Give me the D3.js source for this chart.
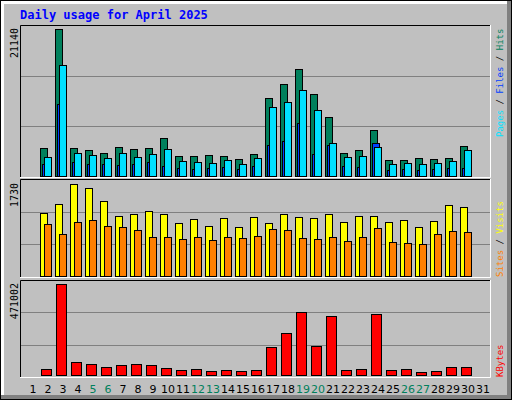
<!DOCTYPE html>
<html>
<head>
<meta charset="utf-8">
<script src="https://cdn.jsdelivr.net/npm/d3@7"></script>
<style>
  body { margin: 0; background: #fff; }
  svg text { font-family: "DejaVu Sans Mono", monospace; }
</style>
</head>
<body>
<div id="chart"></div>
<script>
// day numbers shown on the axis, and data for the 30 days of April
const days = d3.range(1, 32);
const weekends = [5, 6, 12, 13, 19, 20, 26, 27];
const hits = [4000, 21140, 4030, 3750, 3310, 4170, 3880, 4030, 5440, 2880, 2880, 3020, 2880, 2450, 3170,
  11220, 13230, 15390, 11800, 8500, 3310, 3740, 6620, 2300, 2300, 2590, 2450, 2590, 4310];
const files = [1720, 10350, 2010, 1720, 1720, 1580, 1720, 2010, 1440, 1150, 1010, 1150, 1300, 1010, 1440,
  4460, 5030, 7620, 3160, 4460, 1440, 1300, 4740, 860, 1010, 860, 1010, 1150, 1150];
const pages = [2730, 15960, 3310, 3020, 2590, 3310, 2730, 3170, 3880, 2150, 2010, 1870, 2300, 1720, 2590,
  9920, 10640, 12370, 9490, 4750, 2730, 2880, 4170, 1720, 1870, 1720, 1870, 2150, 3740];
const visits = [1183, 1353, 1730, 1655, 1409, 1126, 1164, 1220, 1164, 994, 1069, 937, 1088, 918, 1107,
  994, 1164, 1107, 1088, 1164, 1013, 1126, 1126, 1013, 1051, 918, 1032, 1334, 1296];
const sites = [975, 786, 1013, 1051, 937, 918, 862, 730, 730, 692, 730, 673, 730, 711, 749,
  881, 862, 711, 692, 730, 654, 730, 900, 635, 617, 598, 786, 843, 824];
const kbytes = [31055, 471002, 67287, 56935, 41407, 51759, 56935, 51759, 36231, 25879, 31055, 20703, 25879, 20703, 25879,
  144922, 217383, 326060, 150098, 305357, 25879, 31055, 315709, 25879, 31055, 15527, 20703, 41407, 41407];
// the first day has no data in the picture; data starts on day 2
const dataDays = d3.range(2, 31);

const W = 512, H = 400;
const svg = d3.select("#chart").append("svg").attr("width", W).attr("height", H);

// background with 3D border
svg.append("rect").attr("width", W).attr("height", H).attr("fill", "#c0c0c0");
svg.append("rect").attr("x", 0).attr("y", 0).attr("width", W).attr("height", 4).attr("fill", "#fff");
svg.append("rect").attr("x", 0).attr("y", 0).attr("width", 4).attr("height", H).attr("fill", "#fff");
svg.append("rect").attr("x", W - 5).attr("y", 0).attr("width", 5).attr("height", H).attr("fill", "#808080");
svg.append("rect").attr("x", 0).attr("y", H - 5).attr("width", W).attr("height", 5).attr("fill", "#808080");
svg.append("rect").attr("x", 0.5).attr("y", 0.5).attr("width", W - 1).attr("height", H - 1)
  .attr("fill", "none").attr("stroke", "#000");

svg.append("text").attr("x", 20).attr("y", 19).attr("fill", "#0000ff")
  .attr("font-size", 12).attr("font-weight", "bold").text("Daily usage for April 2025");

// x position of each day's group
const x = d3.scaleLinear().domain([1, 31]).range([33, 483]);

const panels = [
  { top: 25, bottom: 177, base: 176, maxY: 29, max: 21140 },
  { top: 179, bottom: 277, base: 276, maxY: 184, max: 1730 },
  { top: 280, bottom: 377, base: 375, maxY: 284, max: 471002 }
];

panels.forEach(p => {
  p.y = d3.scaleLinear().domain([0, p.max]).range([p.base, p.maxY]);
  const h = p.bottom - p.top;
  [1, 2].forEach(i => {
    const gy = Math.round(p.top + h * i / 3) + 0.5;
    svg.append("line").attr("x1", 21).attr("x2", 490).attr("y1", gy).attr("y2", gy)
      .attr("stroke", "#808080");
  });
  // 3D panel frame
  svg.append("path").attr("d", `M20.5,${p.bottom}V${p.top + 0.5}H491`).attr("fill", "none").attr("stroke", "#000");
  svg.append("path").attr("d", `M20,${p.bottom + 0.5}H490.5V${p.top}`).attr("fill", "none").attr("stroke", "#fff");
  svg.append("text").attr("transform", `translate(18,${p.maxY - 1}) rotate(-90)`)
    .attr("text-anchor", "end").attr("font-size", 10).attr("fill", "#000").text(p.max);
});

function bars(panel, values, dx, w, color) {
  svg.append("g").selectAll("rect").data(values).join("rect")
    .attr("x", (d, i) => x(dataDays[i]) + dx + 0.5)
    .attr("y", d => Math.round(panel.y(d)) + 0.5)
    .attr("width", w)
    .attr("height", d => panel.base - Math.round(panel.y(d)))
    .attr("fill", color).attr("stroke", "#000");
}

bars(panels[0], hits, -8, 7, "#00805c");
bars(panels[0], files, -6, 7, "#0040ff");
bars(panels[0], pages, -4, 7, "#00e0ff");
bars(panels[1], visits, -8, 7, "#ffff00");
bars(panels[1], sites, -4, 7, "#ff8000");
bars(panels[2], kbytes, -7, 10, "#ff0000");

// day labels
svg.append("g").selectAll("text").data(days).join("text")
  .attr("x", d => x(d)).attr("y", 393).attr("text-anchor", "middle")
  .attr("font-family", "DejaVu Sans").attr("font-size", 11)
  .attr("fill", d => weekends.includes(d) ? "#00805c" : "#000")
  .style("font-family", "'DejaVu Sans', sans-serif")
  .text(d => d);

// vertical legends on the right
function legend(bottomY, parts) {
  const t = svg.append("text").attr("transform", `translate(503,${bottomY}) rotate(-90)`)
    .attr("font-size", 9);
  parts.forEach(([s, c]) => t.append("tspan").attr("fill", c).text(s));
}
legend(137, [["Pages", "#00e0ff"], [" / ", "#000"], ["Files", "#0040ff"], [" / ", "#000"], ["Hits", "#00805c"]]);
legend(277, [["Sites", "#ff8000"], [" / ", "#000"], ["Visits", "#ffff00"]]);
legend(377, [["KBytes", "#ff0000"]]);
</script>
</body>
</html>
